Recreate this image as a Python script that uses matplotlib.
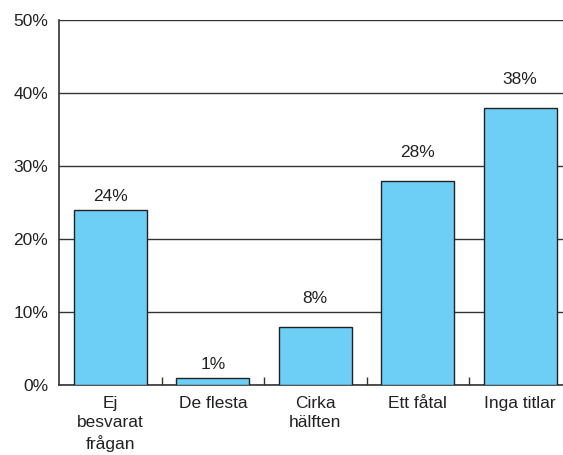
import matplotlib.pyplot as plt
import numpy as np

plt.rcParams['font.family'] = ['Liberation Sans', 'DejaVu Sans']

categories = ['Ej\nbesvarat\nfrågan', 'De flesta', 'Cirka\nhälften', 'Ett fåtal', 'Inga titlar']
values = [24, 1, 8, 28, 38]
y_ticks = [0, 10, 20, 30, 40, 50]

fs = 12.5
fig = plt.figure(figsize=(5.63, 4.55), dpi=100)
# the plot area runs slightly past the right edge of the canvas
ax = fig.add_axes([0.105, 0.154, 0.91, 0.802])

x = np.arange(len(categories))
ax.bar(x, values, width=0.71, color='#6dcff6', edgecolor='#222222', linewidth=1.0, zorder=3)

# value labels sit above the bar, or above the gridline when it is too close
for xi, v in zip(x, values):
    next_grid = (v // 10 + 1) * 10
    base = next_grid if next_grid - v < 3 else v
    ax.text(xi, base + 0.8, f'{v}%', ha='center', va='bottom', fontsize=fs, color='#222222')

ax.set_xlim(-0.5, len(categories) - 0.5)
ax.set_ylim(0, 50)
ax.set_yticks(y_ticks)
ax.set_yticklabels([f'{t}%' for t in y_ticks], fontsize=fs, color='#222222')
ax.yaxis.grid(True, color='#333333', linewidth=1.0, zorder=0)
ax.tick_params(axis='y', length=0, pad=8)

# category labels without ticks, small inward separators between groups
ax.set_xticks(x)
ax.set_xticklabels(categories, fontsize=fs, color='#222222', linespacing=1.35)
ax.tick_params(axis='x', which='major', length=0, pad=8)
ax.set_xticks(x[:-1] + 0.5, minor=True)
ax.tick_params(axis='x', which='minor', direction='in', length=6, width=1, color='#333333')

for side in ['top', 'right']:
    ax.spines[side].set_visible(False)
for side in ['left', 'bottom']:
    ax.spines[side].set_color('#333333')
    ax.spines[side].set_linewidth(1.2)

fig.savefig('out.png', dpi=100)
